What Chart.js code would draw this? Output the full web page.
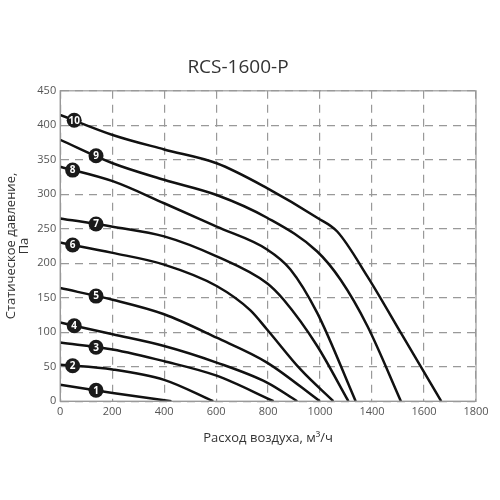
<!DOCTYPE html>
<html><head><meta charset="utf-8">
<script src="https://cdn.jsdelivr.net/npm/chart.js"></script>
<style>html,body{margin:0;background:#fff}#w{width:500px;height:500px}</style>
</head><body><div id="w"><canvas id="c"></canvas></div>
<script>
// tick labels as printed on the original (label 1200 is missing there)
const xTickLabels = ['0', '200', '400', '600', '800', '1000', '1400', '1600', '1800'];
const yTicks = [0, 50, 100, 150, 200, 250, 300, 350, 400, 450];

// curves 1..10: [x, y]
const curve1 = [[0, 24], [202, 12], [428, 0]];
const curve2 = [[0, 53], [202, 46], [400, 31], [589, 0]];
const curve3 = [[0, 85], [202, 75], [400, 58], [602, 37], [821, 0]];
const curve4 = [[0, 114], [202, 97], [400, 80], [602, 56], [796, 27], [912, 0]];
const curve5 = [[0, 164], [202, 147], [400, 126], [602, 92], [796, 56], [999, 0]];
const curve6 = [[0, 230], [202, 215], [400, 198], [602, 167], [731, 132], [796, 104], [925, 46], [1051, 0]];
const curve7 = [[0, 265], [202, 253], [400, 239], [602, 210], [796, 171], [860, 147], [989, 80], [1109, 0]];
const curve8 = [[0, 340], [202, 319], [400, 287], [602, 253], [796, 220], [886, 191], [989, 128], [1137, 0]];
const curve9 = [[0, 379], [202, 345], [400, 321], [602, 299], [796, 266], [989, 217], [1079, 176], [1182, 109], [1311, 0]];
const curve10 = [[0, 415], [202, 386], [400, 365], [602, 345], [796, 309], [989, 266], [1066, 246], [1182, 181], [1311, 99], [1466, 0]];
const curves = [curve1, curve2, curve3, curve4, curve5, curve6, curve7, curve8, curve9, curve10];
// x position of the numbered marker on each curve
const markerX = [138, 48, 138, 54, 138, 48, 138, 48, 138, 54];

function yAt(pts, x) {
    for (let i = 1; i < pts.length; i++) {
        if (x <= pts[i][0]) {
            const t = (x - pts[i - 1][0]) / (pts[i][0] - pts[i - 1][0]);
            return pts[i - 1][1] + t * (pts[i][1] - pts[i - 1][1]);
        }
    }
    return 0;
}

const markers = {
    id: 'markers',
    afterDatasetsDraw(chart) {
        const ctx = chart.ctx, xs = chart.scales.x, ys = chart.scales.y;
        ctx.save();
        curves.forEach((pts, i) => {
            const px = xs.getPixelForValue(markerX[i]);
            const py = ys.getPixelForValue(yAt(pts, markerX[i]));
            ctx.beginPath();
            ctx.arc(px, py, 7.5, 0, Math.PI * 2);
            ctx.fillStyle = '#1a1a1a';
            ctx.fill();
            ctx.fillStyle = '#fff';
            ctx.font = 'bold 10px "Open Sans"';
            ctx.textAlign = 'center';
            ctx.textBaseline = 'middle';
            ctx.fillText(String(i + 1), px, py + 0.5);
        });
        ctx.restore();
    }
};

new Chart(document.getElementById('c'), {
    type: 'line',
    data: {
        datasets: curves.map(pts => ({
            data: pts.map(p => ({ x: p[0], y: p[1] })),
            borderColor: '#111',
            borderWidth: 2.5,
            pointRadius: 0,
            cubicInterpolationMode: 'monotone',
            fill: false
        }))
    },
    options: {
        responsive: true,
        maintainAspectRatio: false,
        animation: false,
        layout: { padding: { left: 0, right: 24, top: 56, bottom: 50 } },
        plugins: {
            legend: { display: false },
            tooltip: { enabled: false },
            title: {
                display: true,
                text: 'RCS-1600-P',
                color: '#333',
                font: { family: 'Open Sans', size: 19, weight: 'normal' },
                padding: { top: 0, bottom: 12 }
            }
        },
        scales: {
            x: {
                type: 'linear',
                min: 0, max: 1600,
                afterBuildTicks: s => { s.ticks = xTickLabels.map((l, i) => ({ value: i * 200 })); },
                ticks: {
                    callback: (v, i) => xTickLabels[i],
                    color: '#555', font: { family: 'Open Sans', size: 11 }, maxRotation: 0, autoSkip: false, padding: 4
                },
                grid: { color: '#999', lineWidth: 1.2, tickLength: 0 },
                border: { color: '#999', dash: [8, 6], display: true },
                title: {
                    display: true, text: 'Расход воздуха, м³/ч', color: '#333',
                    font: { family: 'Open Sans', size: 13 }, padding: { top: 8 }
                }
            },
            y: {
                min: 0, max: 450,
                afterBuildTicks: s => { s.ticks = yTicks.map(v => ({ value: v })); },
                ticks: { color: '#555', font: { family: 'Open Sans', size: 11 }, padding: 4 },
                grid: { color: '#999', lineWidth: 1.2, tickLength: 0 },
                border: { color: '#999', dash: [8, 6] },
                title: {
                    display: true, text: ['Статическое давление,', 'Па'], color: '#333',
                    font: { family: 'Open Sans', size: 13, lineHeight: 1.05 }, padding: { bottom: 2 }
                }
            }
        }
    },
    plugins: [markers, {
        id: 'frame',
        afterDraw(chart) {
            const a = chart.chartArea, ctx = chart.ctx;
            ctx.save();
            ctx.strokeStyle = '#999';
            ctx.lineWidth = 1.2;
            ctx.strokeRect(a.left, a.top, a.right - a.left, a.bottom - a.top);
            ctx.restore();
        }
    }]
});
</script>
</body></html>
